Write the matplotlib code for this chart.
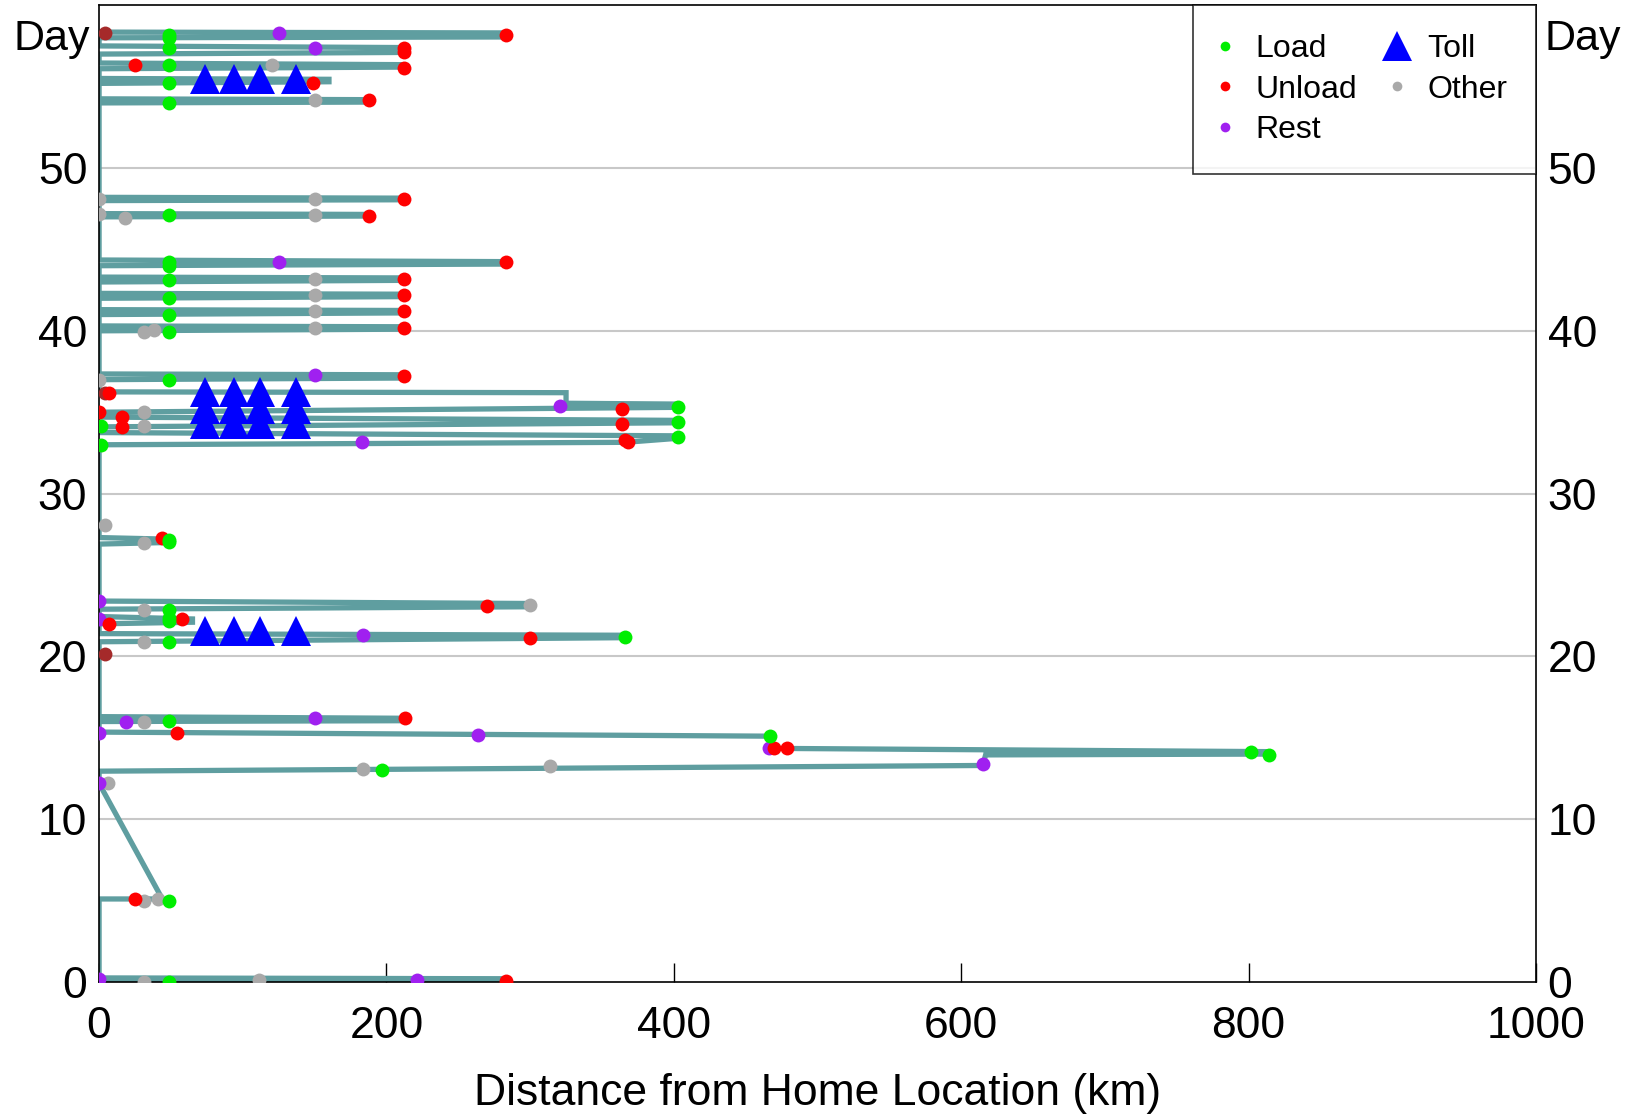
import matplotlib
matplotlib.use("Agg")
import matplotlib.pyplot as plt
from matplotlib.lines import Line2D
import matplotlib.transforms as mtransforms

plt.rcParams['font.family'] = ['Liberation Sans', 'DejaVu Sans']

# truck path: distance from home (km) vs day, in time order
route_km = [0, 283, 283, 0,
            0, 44, 0,
            0, 615, 617, 814, 814, 470, 467, 0,
            0, 213, 213, 0,
            0, 366, 366, 0,
            0, 65, 65, 0,
            0, 301, 301, 0,
            0, 49, 49, 0, 0,
            0, 366, 403, 403, 0,
            0, 403, 403, 0,
            0, 403, 403, 325, 325, 0,
            0, 212, 212, 0,
            0, 212, 212, 0,
            0, 212, 212, 0,
            0, 212, 212, 0,
            0, 212, 212, 0,
            0, 283, 283, 0,
            0, 188, 188, 0,
            0, 212, 212, 0,
            0, 188, 188, 0,
            0, 160, 160, 0,
            0, 212, 212, 0,
            0, 212, 212, 0,
            0, 283, 283, 0]
route_day = [0.25, 0.2, 0.05, 0.05,
             5.1, 5.1, 12.2,
             12.95, 13.3, 13.95, 14.0, 14.15, 14.35, 15.1, 15.35,
             16.0, 16.05, 16.2, 16.3,
             20.9, 21.15, 21.3, 21.4,
             22.0, 22.1, 22.3, 22.45,
             22.9, 23.05, 23.25, 23.4,
             26.9, 27.0, 27.2, 27.3, 28.0,
             33.0, 33.15, 33.4, 33.55, 33.75,
             34.1, 34.35, 34.5, 34.7,
             35.0, 35.3, 35.5, 35.55, 36.2, 36.25,
             37.0, 37.1, 37.3, 37.35,
             40.0, 40.1, 40.25, 40.3,
             41.0, 41.1, 41.25, 41.3,
             42.0, 42.1, 42.25, 42.3,
             43.0, 43.1, 43.25, 43.3,
             44.0, 44.1, 44.25, 44.35,
             47.0, 47.05, 47.15, 47.2,
             48.0, 48.05, 48.15, 48.2,
             54.0, 54.05, 54.2, 54.25,
             55.2, 55.3, 55.45, 55.5,
             56.1, 56.2, 56.35, 56.45,
             57.0, 57.1, 57.4, 57.5,
             58.0, 58.05, 58.3, 58.35]

# stop events
load_km = [49, 49, 49, 49, 49, 49, 49, 49, 49, 49, 49, 49, 49, 49, 403, 403, 403, 1, 1,
           366, 49, 49, 49, 49, 49, 49, 49, 467, 802, 814, 197, 49, 49]
load_day = [58.2, 58.0, 57.4, 56.3, 55.2, 54.0, 47.1, 44.2, 44.0, 43.1, 42.0, 41.0, 39.9, 37.0,
            35.3, 34.4, 33.45, 34.15, 33.0, 21.2, 20.9, 22.15, 22.35, 22.85, 27.0, 27.15, 16.05,
            15.1, 14.1, 13.95, 13.05, 4.95, 0.0]

unload_km = [283, 212, 212, 25, 212, 149, 188, 212, 188, 283, 212, 212, 212, 212,
             212, 7, 364, 0, 16, 364, 16, 366, 368,
             44, 270, 58, 7, 300, 213, 54, 470, 479, 25, 283]
unload_day = [58.2, 57.4, 57.15, 56.3, 56.15, 55.25, 54.15, 48.1, 47.05, 44.2, 43.2, 42.2, 41.2, 40.15,
              37.2, 36.2, 35.2, 35.0, 34.7, 34.3, 34.1, 33.3, 33.2,
              27.25, 23.1, 22.3, 22.0, 21.15, 16.2, 15.3, 14.4, 14.4, 5.1, 0.05]

rest_km = [125, 150, 125, 150, 321, 183, 0, 0, 184, 19, 150, 0, 264, 466, 615, 0, 221, 0]
rest_day = [58.3, 57.4, 44.2, 37.3, 35.4, 33.2, 23.4, 22.3, 21.3, 16.0, 16.2, 15.3, 15.15, 14.4,
            13.4, 12.2, 0.13, 0.2]

other_km = [120, 150, 0, 150, 18, 150, 0, 150, 150, 150, 150, 31, 38, 0, 31, 31,
            4, 31, 300, 31, 31, 31, 6, 184, 314, 31, 41, 111, 31]
other_day = [56.3, 54.15, 48.1, 48.1, 46.95, 47.1, 47.2, 43.2, 42.2, 41.2, 40.2, 39.95, 40.05, 37.0,
             35.0, 34.15, 28.05, 26.95, 23.15, 22.85, 20.9, 15.95, 12.2, 13.1, 13.25, 4.95, 5.1,
             0.15, 0.0]

home_km = [4, 4, 4]
home_day = [58.3, 36.2, 20.15]

toll_km = [74, 94, 112, 137] * 5
toll_day = [55.45] * 4 + [36.25] * 4 + [35.2] * 4 + [34.3] * 4 + [21.55] * 4

fig = plt.figure(figsize=(16.35, 11.14), dpi=100)
ax = fig.add_axes([0.0606, 0.1185, 0.8788, 0.8768])

for d in [10, 20, 30, 40, 50]:
    ax.axhline(d, color='#c8c8c8', lw=1.5, zorder=0)

ax.plot(route_km, route_day, color='#5f9ea0', lw=3.8, solid_joinstyle='miter', zorder=2)

ms = 10
ax.plot(home_km, home_day, 'o', color='#a52a2a', ms=ms, mew=0, zorder=3)
ax.plot(other_km, other_day, 'o', color='#a9a9a9', ms=ms, mew=0, zorder=3)
ax.plot(rest_km, rest_day, 'o', color='#a020f0', ms=ms, mew=0, zorder=3)
ax.plot(unload_km, unload_day, 'o', color='#ff0000', ms=ms, mew=0, zorder=3)
ax.plot(load_km, load_day, 'o', color='#00ee00', ms=ms, mew=0, zorder=3)
ax.plot(toll_km, toll_day, '^', color='#0000ff', ms=21, mew=0, zorder=4)

ax.set_xlim(0, 1000)
ax.set_ylim(0, 60)
ax.set_xticks([0, 200, 400, 600, 800, 1000])
ax.set_yticks([0, 10, 20, 30, 40, 50])
ax.tick_params(axis='x', direction='in', length=14, width=1, labelsize=32, pad=17, top=False)
ax.tick_params(axis='y', left=False, right=False, labelleft=True, labelright=True,
               labelsize=32, pad=5)
for s in ax.spines.values():
    s.set_linewidth(1.2)

trans = mtransforms.blended_transform_factory(ax.transAxes, ax.transData)
ax.text(-0.006, 57.9, 'Day', transform=trans, ha='right', va='center', fontsize=31)
ax.text(1.006, 57.9, 'Day', transform=trans, ha='left', va='center', fontsize=31)

ax.set_xlabel('Distance from Home Location (km)', fontsize=32, labelpad=19)

handles = [
    Line2D([], [], ls='none', marker='o', color='#00ee00', ms=7, mew=0, label='Load'),
    Line2D([], [], ls='none', marker='o', color='#ff0000', ms=7, mew=0, label='Unload'),
    Line2D([], [], ls='none', marker='o', color='#a020f0', ms=7, mew=0, label='Rest'),
    Line2D([], [], ls='none', marker='^', color='#0000ff', ms=22, mew=0, label='Toll'),
    Line2D([], [], ls='none', marker='o', color='#a9a9a9', ms=7, mew=0, label='Other'),
]
leg = ax.legend(handles=handles, loc='upper right', ncol=2, fontsize=23, frameon=True,
                fancybox=False, borderaxespad=0, handlelength=0.2, handletextpad=0.85,
                columnspacing=1.15, labelspacing=0.33, borderpad=0.9)
leg.get_frame().set_edgecolor('black')
leg.get_frame().set_linewidth(1.2)

fig.savefig('out.png', dpi=100)
